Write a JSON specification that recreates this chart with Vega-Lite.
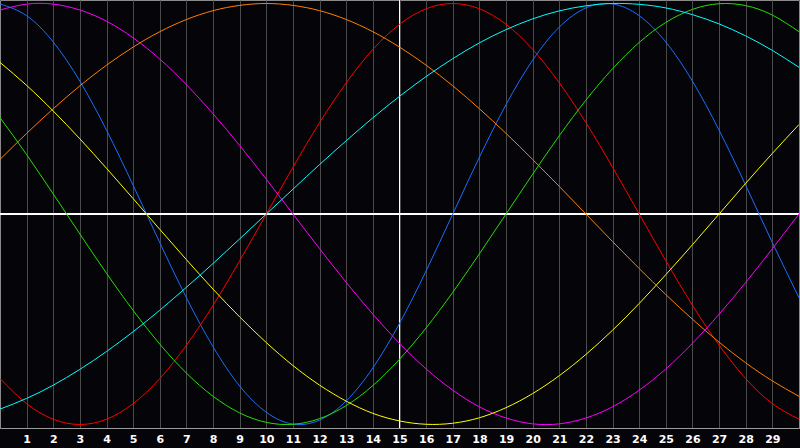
{
  "$schema": "https://vega.github.io/schema/vega-lite/v6.json",
  "width": 799,
  "height": 428,
  "padding": {"left": 0, "top": 0, "right": 1, "bottom": 20},
  "autosize": {"type": "none"},
  "background": "#050509",
  "config": {
    "view": {"stroke": "#8a8a8a", "strokeWidth": 1, "fill": "#050509"},
    "axisX": {
      "grid": true,
      "gridColor": "#4a4a4a",
      "gridWidth": 1,
      "domain": true,
      "domainColor": "#9a9a9a",
      "ticks": false,
      "labelColor": "#ffffff",
      "labelFont": "DejaVu Sans",
      "labelFontWeight": "bold",
      "labelFontSize": 11,
      "labelPadding": 5,
      "labelFlush": false,
      "labelOverlap": false,
      "title": null
    }
  },
  "data": {
    "values": [
      {"day": 0, "Physical": 0.998, "Emotional": -0.782, "Intellectual": 0.458, "Intuitive": 0.969, "Aesthetic": 0.720, "Awareness": 0.259, "Spiritual": -0.927},
      {"day": 1, "Physical": 0.942, "Emotional": -0.901, "Intellectual": 0.282, "Intuitive": 0.997, "Aesthetic": 0.611, "Awareness": 0.383, "Spiritual": -0.876},
      {"day": 2, "Physical": 0.817, "Emotional": -0.975, "Intellectual": 0.095, "Intuitive": 0.997, "Aesthetic": 0.489, "Awareness": 0.500, "Spiritual": -0.813},
      {"day": 3, "Physical": 0.631, "Emotional": -1.000, "Intellectual": -0.095, "Intuitive": 0.969, "Aesthetic": 0.357, "Awareness": 0.609, "Spiritual": -0.738},
      {"day": 4, "Physical": 0.398, "Emotional": -0.975, "Intellectual": -0.282, "Intuitive": 0.916, "Aesthetic": 0.217, "Awareness": 0.707, "Spiritual": -0.653},
      {"day": 5, "Physical": 0.136, "Emotional": -0.901, "Intellectual": -0.458, "Intuitive": 0.837, "Aesthetic": 0.073, "Awareness": 0.793, "Spiritual": -0.559},
      {"day": 6, "Physical": -0.136, "Emotional": -0.782, "Intellectual": -0.618, "Intuitive": 0.736, "Aesthetic": -0.073, "Awareness": 0.866, "Spiritual": -0.457},
      {"day": 7, "Physical": -0.398, "Emotional": -0.623, "Intellectual": -0.756, "Intuitive": 0.614, "Aesthetic": -0.217, "Awareness": 0.924, "Spiritual": -0.348},
      {"day": 8, "Physical": -0.631, "Emotional": -0.434, "Intellectual": -0.866, "Intuitive": 0.476, "Aesthetic": -0.357, "Awareness": 0.966, "Spiritual": -0.235},
      {"day": 9, "Physical": -0.817, "Emotional": -0.222, "Intellectual": -0.945, "Intuitive": 0.325, "Aesthetic": -0.489, "Awareness": 0.991, "Spiritual": -0.118},
      {"day": 10, "Physical": -0.942, "Emotional": 0.000, "Intellectual": -0.990, "Intuitive": 0.165, "Aesthetic": -0.611, "Awareness": 1.000, "Spiritual": 0.000},
      {"day": 11, "Physical": -0.998, "Emotional": 0.222, "Intellectual": -0.999, "Intuitive": 0.000, "Aesthetic": -0.720, "Awareness": 0.991, "Spiritual": 0.118},
      {"day": 12, "Physical": -0.979, "Emotional": 0.434, "Intellectual": -0.972, "Intuitive": -0.165, "Aesthetic": -0.813, "Awareness": 0.966, "Spiritual": 0.235},
      {"day": 13, "Physical": -0.888, "Emotional": 0.623, "Intellectual": -0.910, "Intuitive": -0.325, "Aesthetic": -0.889, "Awareness": 0.924, "Spiritual": 0.348},
      {"day": 14, "Physical": -0.731, "Emotional": 0.782, "Intellectual": -0.815, "Intuitive": -0.476, "Aesthetic": -0.947, "Awareness": 0.866, "Spiritual": 0.457},
      {"day": 15, "Physical": -0.520, "Emotional": 0.901, "Intellectual": -0.690, "Intuitive": -0.614, "Aesthetic": -0.983, "Awareness": 0.793, "Spiritual": 0.559},
      {"day": 16, "Physical": -0.270, "Emotional": 0.975, "Intellectual": -0.541, "Intuitive": -0.736, "Aesthetic": -0.999, "Awareness": 0.707, "Spiritual": 0.653},
      {"day": 17, "Physical": 0.000, "Emotional": 1.000, "Intellectual": -0.372, "Intuitive": -0.837, "Aesthetic": -0.994, "Awareness": 0.609, "Spiritual": 0.738},
      {"day": 18, "Physical": 0.270, "Emotional": 0.975, "Intellectual": -0.189, "Intuitive": -0.916, "Aesthetic": -0.968, "Awareness": 0.500, "Spiritual": 0.813},
      {"day": 19, "Physical": 0.520, "Emotional": 0.901, "Intellectual": 0.000, "Intuitive": -0.969, "Aesthetic": -0.920, "Awareness": 0.383, "Spiritual": 0.876},
      {"day": 20, "Physical": 0.731, "Emotional": 0.782, "Intellectual": 0.189, "Intuitive": -0.997, "Aesthetic": -0.853, "Awareness": 0.259, "Spiritual": 0.927},
      {"day": 21, "Physical": 0.888, "Emotional": 0.623, "Intellectual": 0.372, "Intuitive": -0.997, "Aesthetic": -0.768, "Awareness": 0.131, "Spiritual": 0.965},
      {"day": 22, "Physical": 0.979, "Emotional": 0.434, "Intellectual": 0.541, "Intuitive": -0.969, "Aesthetic": -0.667, "Awareness": 0.000, "Spiritual": 0.989},
      {"day": 23, "Physical": 0.998, "Emotional": 0.222, "Intellectual": 0.690, "Intuitive": -0.916, "Aesthetic": -0.552, "Awareness": -0.131, "Spiritual": 1.000},
      {"day": 24, "Physical": 0.942, "Emotional": 0.000, "Intellectual": 0.815, "Intuitive": -0.837, "Aesthetic": -0.425, "Awareness": -0.259, "Spiritual": 0.996},
      {"day": 25, "Physical": 0.817, "Emotional": -0.222, "Intellectual": 0.910, "Intuitive": -0.736, "Aesthetic": -0.288, "Awareness": -0.383, "Spiritual": 0.979},
      {"day": 26, "Physical": 0.631, "Emotional": -0.434, "Intellectual": 0.972, "Intuitive": -0.614, "Aesthetic": -0.146, "Awareness": -0.500, "Spiritual": 0.947},
      {"day": 27, "Physical": 0.398, "Emotional": -0.623, "Intellectual": 0.999, "Intuitive": -0.476, "Aesthetic": 0.000, "Awareness": -0.609, "Spiritual": 0.903},
      {"day": 28, "Physical": 0.136, "Emotional": -0.782, "Intellectual": 0.990, "Intuitive": -0.325, "Aesthetic": 0.146, "Awareness": -0.707, "Spiritual": 0.846},
      {"day": 29, "Physical": -0.136, "Emotional": -0.901, "Intellectual": 0.945, "Intuitive": -0.165, "Aesthetic": 0.288, "Awareness": -0.793, "Spiritual": 0.777},
      {"day": 30, "Physical": -0.398, "Emotional": -0.975, "Intellectual": 0.866, "Intuitive": 0.000, "Aesthetic": 0.425, "Awareness": -0.866, "Spiritual": 0.697}
    ]
  },
  "layer": [
    {
      "mark": {"type": "rule", "color": "#ffffff", "strokeWidth": 1},
      "encoding": {
        "x": {
          "datum": 15,
          "type": "quantitative",
          "scale": {"domain": [0, 30], "nice": false, "zero": false},
          "axis": {"values": [1, 2, 3, 4, 5, 6, 7, 8, 9, 10, 11, 12, 13, 14, 15, 16, 17, 18, 19, 20, 21, 22, 23, 24, 25, 26, 27, 28, 29], "title": null}
        }
      }
    },
    {
      "mark": {"type": "rule", "color": "#ffffff", "strokeWidth": 1},
      "encoding": {
        "y": {"datum": 0, "type": "quantitative", "scale": {"domain": [-1.0166, 1.0166], "nice": false, "zero": false}, "axis": null}
      }
    },
    {
      "transform": [
        {"fold": ["Physical", "Emotional", "Intellectual", "Intuitive", "Aesthetic", "Awareness", "Spiritual"], "as": ["series", "value"]}
      ],
      "mark": {"type": "line", "strokeWidth": 1, "interpolate": "natural", "clip": true},
      "encoding": {
        "x": {
          "field": "day",
          "type": "quantitative",
          "scale": {"domain": [0, 30], "nice": false, "zero": false},
          "axis": {"values": [1, 2, 3, 4, 5, 6, 7, 8, 9, 10, 11, 12, 13, 14, 15, 16, 17, 18, 19, 20, 21, 22, 23, 24, 25, 26, 27, 28, 29], "title": null}
        },
        "y": {
          "field": "value",
          "type": "quantitative",
          "scale": {"domain": [-1.0166, 1.0166], "nice": false, "zero": false},
          "axis": null
        },
        "color": {
          "field": "series",
          "type": "nominal",
          "scale": {
            "domain": ["Physical", "Emotional", "Intellectual", "Intuitive", "Aesthetic", "Awareness", "Spiritual"],
            "range": ["#1a6eff", "#ff0000", "#22e000", "#ff00ff", "#ffff00", "#ff8000", "#00ffff"]
          },
          "legend": null
        }
      }
    }
  ]
}
